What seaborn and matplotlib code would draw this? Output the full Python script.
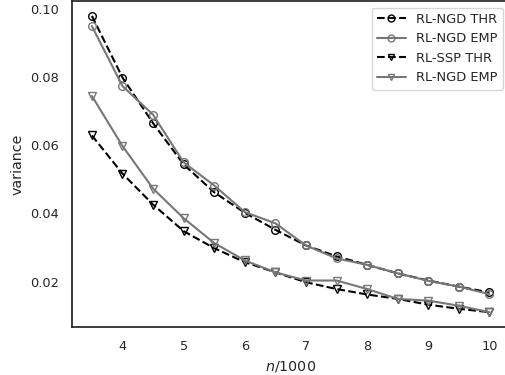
import numpy as np
import pandas as pd
import matplotlib
matplotlib.use("Agg")
import matplotlib.pyplot as plt
import seaborn as sns

n_k = [3.5, 4, 4.5, 5, 5.5, 6, 6.5, 7, 7.5, 8, 8.5, 9, 9.5, 10]
ngd_thr = [0.0980, 0.0799, 0.0665, 0.0544, 0.0462, 0.0402, 0.0352, 0.0306, 0.0274, 0.0249, 0.0224, 0.0203, 0.0185, 0.0168]
ngd_emp = [0.0950, 0.0774, 0.0690, 0.0550, 0.0482, 0.0404, 0.0371, 0.0306, 0.0268, 0.0249, 0.0224, 0.0202, 0.0185, 0.0163]
ssp_thr = [0.0629, 0.0517, 0.0426, 0.0348, 0.0298, 0.0257, 0.0227, 0.0198, 0.0178, 0.0162, 0.0149, 0.0132, 0.0120, 0.0110]
ngd_emp2 = [0.0745, 0.0598, 0.0473, 0.0386, 0.0313, 0.0262, 0.0227, 0.0203, 0.0203, 0.0178, 0.0149, 0.0144, 0.0129, 0.0110]
labels = ["RL-NGD THR", "RL-NGD EMP", "RL-SSP THR", "RL-NGD EMP"]

sns.set_theme(style="white")
plt.rcParams['font.family'] = ['DejaVu Sans']

fig = plt.figure(figsize=(5.05, 3.75), dpi=100)
ax = fig.add_axes([0.1426, 0.128, 0.866, 0.869])

series = [ngd_thr, ngd_emp, ssp_thr, ngd_emp2]
styles = [("black", "--", "o"), ("#777777", "-", "o"), ("black", "--", "v"), ("#777777", "-", "v")]
for vals, lab, (c, ls, m) in zip(series, labels, styles):
    df = pd.DataFrame({"n": n_k, "v": vals})
    sns.lineplot(data=df, x="n", y="v", ax=ax, color=c, linestyle=ls, marker=m,
                 markerfacecolor="none", markeredgecolor=c, markeredgewidth=1.0,
                 markersize=5.5, linewidth=1.5, label=lab)

ax.set_xticks([4, 5, 6, 7, 8, 9, 10])
ax.set_yticks([0.02, 0.04, 0.06, 0.08, 0.10])
ax.set_yticklabels(["0.02", "0.04", "0.06", "0.08", "0.10"])
ax.tick_params(labelsize=9.3)
ax.set_xlabel("$n$/1000", fontsize=10.3)
ax.set_ylabel("variance", fontsize=10.3)
ax.legend(loc="upper right", fontsize=9.4, markerscale=0.9, handlelength=2.2)

fig.savefig("out.png", dpi=100)
